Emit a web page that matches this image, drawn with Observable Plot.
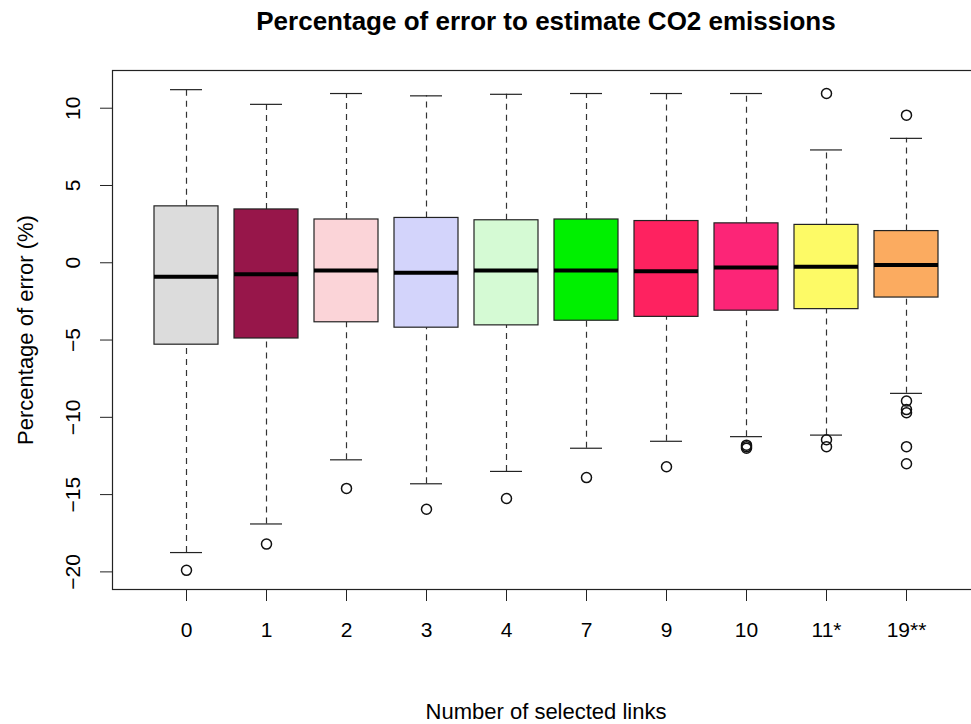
<!DOCTYPE html>
<html>
<head>
<meta charset="utf-8">
<script src="https://cdn.jsdelivr.net/npm/d3@7"></script>
<script src="https://cdn.jsdelivr.net/npm/@observablehq/plot@0.6"></script>
<style>
  body { margin: 0; background: #fff; }
  svg { display: block; }
</style>
</head>
<body>
<div id="chart"></div>
<script>
const groups = ["0", "1", "2", "3", "4", "7", "9", "10", "11*", "19**"];
const lowerWhisker = [-18.75, -16.9, -12.75, -14.3, -13.5, -12.0, -11.55, -11.25, -11.15, -8.45];
const q1 = [-5.3, -4.9, -3.85, -4.2, -4.05, -3.75, -3.5, -3.1, -3.0, -2.25];
const median = [-0.9, -0.75, -0.5, -0.65, -0.5, -0.5, -0.55, -0.3, -0.25, -0.15];
const q3 = [3.65, 3.45, 2.8, 2.9, 2.75, 2.8, 2.7, 2.55, 2.45, 2.05];
const upperWhisker = [11.2, 10.25, 10.95, 10.8, 10.9, 10.95, 10.95, 10.95, 7.3, 8.05];
const boxColors = ["#dcdcdc", "#97164a", "#fbd4d8", "#d3d4fb", "#d5fad4", "#00f000", "#fe2260", "#fc2577", "#fdfa66", "#fbab60"];

const outlierGroup = ["0", "1", "2", "3", "4", "7", "9", "10", "10", "10", "11*", "11*", "11*", "19**", "19**", "19**", "19**", "19**", "19**"];
const outlierValue = [-19.9, -18.2, -14.6, -15.95, -15.25, -13.9, -13.2, -11.8, -11.9, -12.0, 10.95, -11.45, -11.9, 9.55, -8.95, -9.5, -9.7, -11.9, -13.0];

const yTicks = [-20, -15, -10, -5, 0, 5, 10];
const titleText = "Percentage of error to estimate CO2 emissions";
const xLabel = "Number of selected links";
const yLabel = "Percentage of error (%)";

const stats = groups.map((g, i) => ({
  group: g, lo: lowerWhisker[i], q1: q1[i], med: median[i], q3: q3[i], hi: upperWhisker[i], color: boxColors[i]
}));
const outliers = outlierGroup.map((g, i) => ({group: g, value: outlierValue[i]}));

const chart = Plot.plot({
  width: 971,
  height: 724,
  marginTop: 70,
  marginBottom: 135,
  marginLeft: 112,
  marginRight: -8,
  style: {fontFamily: "'Liberation Sans', Arial, Helvetica, sans-serif", fontSize: "21px", color: "#000", background: "#fff"},
  x: {type: "band", domain: groups, paddingInner: 0.2, paddingOuter: 0.47, align: 0.5},
  y: {domain: [-21.14, 12.44]},
  marks: [
    Plot.frame({stroke: "#222", strokeWidth: 1.2}),
    Plot.axisX({tickSize: 12, tickPadding: 21, fontSize: 21, label: null, stroke: "#222"}),
    Plot.axisY({ticks: yTicks, tickSize: 12, tickPadding: 21, tickRotate: -90, fontSize: 21, label: null, stroke: "#222"}),
    Plot.ruleX(stats, {x: "group", y1: "q3", y2: "hi", stroke: "#333", strokeDasharray: "6,5", strokeWidth: 1.2}),
    Plot.ruleX(stats, {x: "group", y1: "lo", y2: "q1", stroke: "#333", strokeDasharray: "6,5", strokeWidth: 1.2}),
    Plot.tickY(stats, {x: "group", y: "hi", stroke: "#222", strokeWidth: 1.2, inset: 16}),
    Plot.tickY(stats, {x: "group", y: "lo", stroke: "#222", strokeWidth: 1.2, inset: 16}),
    Plot.barY(stats, {x: "group", y1: "q1", y2: "q3", fill: "color", stroke: "#222", strokeWidth: 1.2}),
    Plot.tickY(stats, {x: "group", y: "med", stroke: "#000", strokeWidth: 4}),
    Plot.dot(outliers, {x: "group", y: "value", r: 5, stroke: "#111", strokeWidth: 1.5, fill: "none"}),
    Plot.text([titleText], {frameAnchor: "top", lineAnchor: "top", dy: -59, fontWeight: "bold", fontSize: 26, fill: "#000"}),
    Plot.text([xLabel], {frameAnchor: "bottom", lineAnchor: "middle", dy: 122, fontSize: 22, fill: "#000"}),
    Plot.text([yLabel], {frameAnchor: "left", textAnchor: "middle", lineAnchor: "middle", dx: -87, rotate: -90, fontSize: 22, fill: "#000"})
  ]
});
document.getElementById("chart").appendChild(chart);
</script>
</body>
</html>
